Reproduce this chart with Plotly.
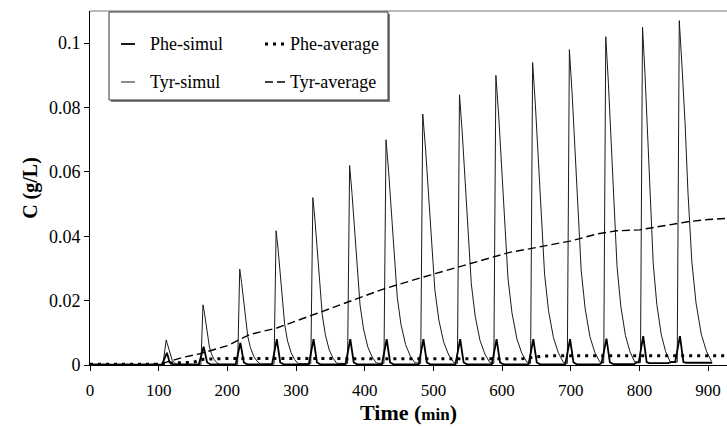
import plotly.graph_objects as go

# ---------------- data ----------------
tyr_time = [0, 105, 107,
            111, 112.5, 114.1, 115.6, 117.6, 119.8, 122.6, 125.3, 128,
            161.5,
            164.5, 166.7, 168.8, 171, 173.9, 177, 180.8, 184.7, 188.5,
            215,
            218, 220.7, 223.4, 226.1, 229.7, 233.6, 238.4, 243.2, 248,
            268,
            271, 273.9, 276.8, 279.6, 283.5, 287.6, 292.8, 297.9, 303,
            321.5,
            324.5, 327.7, 330.8, 334, 338.2, 342.7, 348.3, 353.9, 359.5,
            375,
            378, 381.5, 385, 388.5, 393.2, 398.3, 404.5, 410.8, 417,
            428,
            431, 434.8, 438.6, 442.3, 447.4, 452.8, 459.6, 466.3, 473,
            481.5,
            484.5, 488.6, 492.6, 496.7, 502.1, 507.9, 515.1, 522.3, 529.5,
            535,
            538, 542, 545.9, 549.9, 555.2, 560.9, 567.9, 575, 582,
            588,
            591, 595.1, 599.1, 603.2, 608.6, 614.4, 621.6, 628.8, 636,
            641.5,
            644.5, 648.5, 652.5, 656.5, 661.9, 667.6, 674.8, 681.9, 689,
            695,
            698, 702, 705.9, 709.9, 715.2, 720.9, 727.9, 735, 742,
            748,
            751, 754.8, 758.6, 762.3, 767.4, 772.8, 779.6, 786.3, 793,
            801.5,
            804.5, 808.1, 811.7, 815.3, 820.1, 825.3, 831.7, 838.1, 844.5,
            855,
            858, 862.2, 866.5, 870.7, 876.3, 882.4, 890, 897.5, 905]
tyr_conc = [0.0001, 0.0001, 0.0015,
            0.0078, 0.0067, 0.0055, 0.0039, 0.0023, 0.0014, 0.0007, 0.0003, 0.0001,
            0.0001,
            0.0187, 0.0161, 0.0131, 0.0094, 0.0056, 0.0034, 0.0017, 0.0007, 0.0002,
            0.0002,
            0.0298, 0.0256, 0.0209, 0.0149, 0.0089, 0.0054, 0.0027, 0.0012, 0.0003,
            0.0003,
            0.0417, 0.0359, 0.0292, 0.0209, 0.0125, 0.0075, 0.0038, 0.0017, 0.0004,
            0.0004,
            0.052, 0.0447, 0.0364, 0.026, 0.0156, 0.0094, 0.0047, 0.0021, 0.0005,
            0.0005,
            0.062, 0.0533, 0.0434, 0.031, 0.0186, 0.0112, 0.0056, 0.0025, 0.0006,
            0.0005,
            0.070, 0.0602, 0.049, 0.035, 0.021, 0.0126, 0.0063, 0.0028, 0.0007,
            0.0005,
            0.078, 0.0671, 0.0546, 0.039, 0.0234, 0.014, 0.007, 0.0031, 0.0008,
            0.0005,
            0.084, 0.0722, 0.0588, 0.042, 0.0252, 0.0151, 0.0076, 0.0034, 0.0008,
            0.0005,
            0.090, 0.0774, 0.063, 0.045, 0.027, 0.0162, 0.0081, 0.0036, 0.0009,
            0.0005,
            0.094, 0.0808, 0.0658, 0.047, 0.0282, 0.0169, 0.0085, 0.0038, 0.0009,
            0.0005,
            0.098, 0.0843, 0.0686, 0.049, 0.0294, 0.0176, 0.0088, 0.0039, 0.001,
            0.0006,
            0.102, 0.0877, 0.0714, 0.051, 0.0306, 0.0184, 0.0092, 0.0041, 0.001,
            0.0008,
            0.105, 0.0903, 0.0735, 0.0525, 0.0315, 0.0189, 0.0095, 0.0042, 0.0011,
            0.0009,
            0.107, 0.092, 0.0749, 0.0535, 0.0321, 0.0193, 0.0096, 0.0043, 0.0011]

phe_time = [0, 104,
            105, 112, 116, 121,
            158.5, 165.5, 170.5, 175.5,
            212, 219, 224, 229,
            265, 272, 277, 282,
            318.5, 325.5, 330.5, 335.5,
            372, 379, 384, 389,
            425, 432, 437, 442,
            478.5, 485.5, 490.5, 495.5,
            532, 539, 544, 549,
            585, 592, 597, 602,
            638.5, 645.5, 650.5, 655.5,
            692, 699, 704, 709,
            742, 745, 752, 757, 762,
            792, 796, 799, 805.5, 810.5, 814, 838,
            842, 846, 852, 859, 864, 868, 906]
phe_conc = [0.0001, 0.0001,
            0.0002, 0.0038, 0.0008, 0.0002,
            0.0002, 0.0057, 0.0008, 0.0002,
            0.0002, 0.0069, 0.0008, 0.0002,
            0.0002, 0.008, 0.0008, 0.0002,
            0.0002, 0.008, 0.0008, 0.0002,
            0.0002, 0.008, 0.0008, 0.0002,
            0.0002, 0.008, 0.0008, 0.0002,
            0.0002, 0.008, 0.0008, 0.0002,
            0.0002, 0.008, 0.0008, 0.0002,
            0.0002, 0.008, 0.0008, 0.0002,
            0.0002, 0.008, 0.0008, 0.0002,
            0.0002, 0.008, 0.0008, 0.0002,
            0.0002, 0.0007, 0.0082, 0.0008, 0.0003,
            0.0003, 0.0008, 0.0008, 0.009, 0.0009, 0.0006, 0.0006,
            0.0006, 0.0009, 0.0009, 0.009, 0.0009, 0.0007, 0.0007]

phe_avg_time = [0, 100, 110, 150, 165, 200, 300, 400, 500, 600, 628, 660, 700, 800, 1000]
phe_avg_conc = [0.0002, 0.0002, 0.0006, 0.0008, 0.0018, 0.002, 0.002, 0.002, 0.002,
                0.0019, 0.0019, 0.0028, 0.0029, 0.0029, 0.0029]

tyr_avg_time = [0, 90, 110, 136, 160, 200, 233, 272, 330, 380, 427, 480, 524, 560,
                611, 650, 699, 740, 767, 800, 835, 870, 900, 1000]
tyr_avg_conc = [0.0002, 0.0002, 0.0008, 0.0024, 0.0035, 0.006, 0.0095, 0.0115, 0.016,
                0.0198, 0.0236, 0.027, 0.0297, 0.032, 0.035, 0.0365, 0.0385, 0.0408,
                0.0417, 0.042, 0.0433, 0.0445, 0.0452, 0.0465]

x_ticks = [0, 100, 200, 300, 400, 500, 600, 700, 800, 900]
y_ticks = [0, 0.02, 0.04, 0.06, 0.08, 0.1]
y_tick_labels = ["0", "0.02", "0.04", "0.06", "0.08", "0.1"]

series_names = ["Phe-simul", "Tyr-simul", "Phe-average", "Tyr-average"]

# ---------------- figure ----------------
W, H = 727, 428
L, R, T, B = 90, 0, 11, 63
FONT = "Liberation Serif, Times New Roman, serif"

fig = go.Figure()
fig.add_trace(go.Scatter(x=tyr_time, y=tyr_conc, mode="lines", name=series_names[1],
                         line=dict(color="#1a1a1a", width=1), showlegend=False))
fig.add_trace(go.Scatter(x=phe_time, y=phe_conc, mode="lines", name=series_names[0],
                         line=dict(color="black", width=1.8), showlegend=False))
fig.add_trace(go.Scatter(x=phe_avg_time, y=phe_avg_conc, mode="lines", name=series_names[2],
                         line=dict(color="black", width=3, dash="3px,5px"), showlegend=False))
fig.add_trace(go.Scatter(x=tyr_avg_time, y=tyr_avg_conc, mode="lines", name=series_names[3],
                         line=dict(color="black", width=1.4, dash="8px,4px"), showlegend=False))

pw, ph = W - L - R, H - T - B


def px(x):
    return (x - L) / pw


def py(y):
    return (H - B - y) / ph


shapes = []
# plot-area top border
shapes.append(dict(type="line", xref="paper", yref="paper", x0=0, x1=1, y0=1, y1=1,
                   line=dict(color="#a0a0a0", width=1.5)))
# legend shadow and box
shapes.append(dict(type="rect", xref="paper", yref="paper", x0=px(111), x1=px(390),
                   y0=py(102), y1=py(14), fillcolor="#808080", line=dict(width=0)))
shapes.append(dict(type="rect", xref="paper", yref="paper", x0=px(109), x1=px(388),
                   y0=py(100), y1=py(12), fillcolor="white",
                   line=dict(color="#333333", width=1)))
# legend samples
row_y = [44, 82]
shapes.append(dict(type="line", xref="paper", yref="paper", x0=px(121), x1=px(135),
                   y0=py(row_y[0]), y1=py(row_y[0]), line=dict(color="black", width=1.8)))
shapes.append(dict(type="line", xref="paper", yref="paper", x0=px(121), x1=px(135),
                   y0=py(row_y[1]), y1=py(row_y[1]), line=dict(color="#1a1a1a", width=1)))
shapes.append(dict(type="line", xref="paper", yref="paper", x0=px(265), x1=px(285),
                   y0=py(row_y[0]), y1=py(row_y[0]),
                   line=dict(color="black", width=3, dash="3px,5px")))
shapes.append(dict(type="line", xref="paper", yref="paper", x0=px(265), x1=px(285),
                   y0=py(row_y[1]), y1=py(row_y[1]),
                   line=dict(color="black", width=1.4, dash="8px,4px")))

annotations = []
for name, xx, yy in [(series_names[0], 148, row_y[0]), (series_names[1], 148, row_y[1]),
                     (series_names[2], 288, row_y[0]), (series_names[3], 288, row_y[1])]:
    annotations.append(dict(text=name, xref="paper", yref="paper", x=px(xx), y=py(yy),
                            xanchor="left", yanchor="middle", showarrow=False,
                            font=dict(family=FONT, size=18, color="black")))

fig.update_layout(
    width=W, height=H,
    margin=dict(l=L, r=R, t=T, b=B, autoexpand=False),
    paper_bgcolor="white", plot_bgcolor="white",
    font=dict(family=FONT, size=17, color="black"),
    showlegend=False,
    shapes=shapes,
    annotations=annotations,
    xaxis=dict(range=[0, 927.5], tickvals=x_ticks, ticks="outside", ticklen=5,
               tickcolor="black", showline=True, linecolor="black", linewidth=1,
               showgrid=False, zeroline=False, tickfont=dict(size=17),
               ticklabelstandoff=5,
               title=dict(text="<b>Time (<span style='font-size:17px'>min</span>)</b>",
                          font=dict(size=22), standoff=0)),
    yaxis=dict(range=[0, 0.11], tickvals=y_ticks, ticktext=y_tick_labels,
               ticks="outside", ticklen=5, tickcolor="black", showline=True,
               linecolor="black", linewidth=1, showgrid=False, zeroline=False,
               tickfont=dict(size=18),
               title=dict(text="<b>C (g/L)</b>", font=dict(size=20), standoff=5)),
)

fig.write_html("out.html", config={"displayModeBar": False},
               post_script="document.body.style.margin='0';document.body.style.overflow='hidden';")
